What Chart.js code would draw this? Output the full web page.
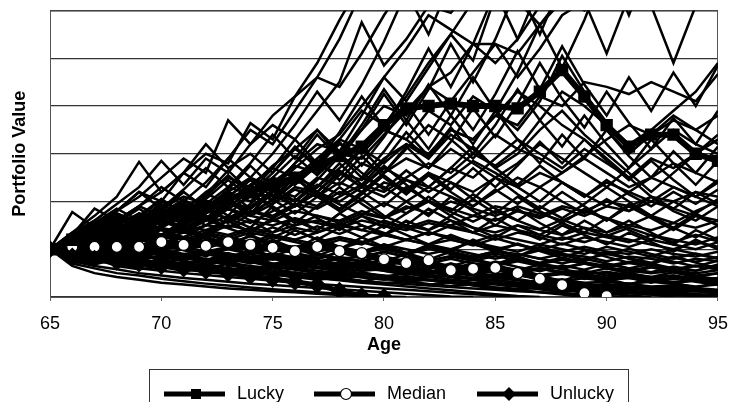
<!DOCTYPE html>
<html>
<head>
<meta charset="utf-8">
<script src="https://cdn.jsdelivr.net/npm/chart.js@4.4.1/dist/chart.umd.min.js"></script>
<style>
  html, body { margin: 0; padding: 0; background: #fff; }
  #wrap { width: 740px; height: 402px; position: relative; }
</style>
</head>
<body>
<div id="wrap"><canvas id="sim-chart"></canvas></div>
<script>
var ages = [65,66,67,68,69,70,71,72,73,74,75,76,77,78,79,80,81,82,83,84,85,86,87,88,89,90,91,92,93,94,95];
var ageTicks = [65,70,75,80,85,90,95];

var luckyValues = [1,1.2,1.35,1.45,1.55,1.7,1.75,1.9,2.05,2.2,2.35,2.5,2.75,2.95,3.15,3.6,3.95,4.0,4.05,4.0,4.0,3.95,4.3,4.75,4.2,3.6,3.15,3.4,3.4,3.0,2.85];
var medianValues = [1,1.05,1.05,1.05,1.05,1.15,1.09,1.07,1.15,1.09,1.03,0.96,1.05,0.96,0.92,0.79,0.71,0.77,0.56,0.59,0.61,0.5,0.38,0.25,0.08,0.02,null,null,null,null,null];
var unluckyValues = [1,0.85,0.8,0.74,0.7,0.65,0.6,0.55,0.5,0.44,0.38,0.32,0.25,0.13,0.02,0,null,null,null,null,null,null,null,null,null,null,null,null,null,null,null];

// other simulated paths (thin lines)
var simPaths = [
  [1,1.35,1.7,2.1,2.83,2.2,2.6,2.3,2.9,3.5,3.2,3.9,4.6,5.4,6.4,7.2,7.9,8.5,9,9.5,10,10,10,10,10,10,10,10,10,10,10],
  [1,1.3,1.6,1.95,2.3,2.85,2.35,2.9,2.6,3.2,3.8,4.2,4.9,5.8,6.6,7.1,7.6,8,8.4,8.8,9,9,9,9,9,9,9,9,9,9,9],
  [1,1.2,1.5,1.8,2.1,2.5,2.9,2.6,3.7,3.2,3.6,3.3,3.9,4.5,5.75,4.85,5.4,6.1,5.95,6.5,7,7.5,8,8,8,8,8,8,8,8,8],
  [1,1.15,1.4,1.6,1.9,2.2,2.6,3.0,2.8,3.64,3.3,4.2,4.6,4.4,5.1,5.9,6.6,7.2,7.7,8,8.2,8.5,8.5,8.5,8.5,8.5,8.5,8.5,8.5,8.5,8.5],
  [1,1.3,1.55,1.8,2.2,2.0,2.6,3.2,2.7,3.0,2.6,3.1,3.5,3.05,3.8,4.6,4.1,4.8,5.5,4.95,6.3,7.0,7.5,7.8,8,8.2,8.2,8.2,8.2,8.2,8.2],
  [1,1.78,1.45,1.75,1.55,2.0,1.8,2.2,2.5,2.3,2.75,3.1,2.8,3.3,3.9,3.6,4.2,4.9,5.5,6.2,6.3,6.2,5.7,6.2,6.7,7,7.2,7.2,7.2,7.2,7.2],
  [1,1.3,1.85,1.6,1.9,1.7,2.0,1.85,2.2,2.5,2.3,2.8,3.2,3.05,3.5,4.0,3.8,4.4,4.7,5.3,5.3,4.6,5.2,5.9,6.2,5.1,6.3,7,7.5,7.5,7.5],
  [1,1.1,1.3,1.25,1.5,1.7,1.6,1.9,2.2,2.0,2.4,2.75,2.6,3.0,2.9,3.4,3.9,4.4,4.1,4.7,5.3,5.1,5.7,6.3,6.6,6.9,6.5,6.1,4.9,6.1,6.8],
  [1,1.15,1.3,1.5,1.4,1.7,1.95,1.8,2.1,2.45,2.3,2.7,3.1,3.4,4.0,4.6,5.2,5.9,5.6,5.3,4.9,5.4,6.1,6.3,6.0,6.4,6.8,6.6,6.3,6.6,6.9],
  [1,1.1,1.2,1.35,1.3,1.5,1.7,1.6,1.85,2.1,1.95,2.3,2.2,2.6,2.45,2.9,3.2,3.0,3.5,3.3,3.8,3.6,4.2,4.0,4.5,4.4,4.25,4.5,4.3,4.1,4.67],
  [1,1.1,1.25,1.15,1.4,1.6,1.5,1.75,2.0,1.85,2.2,2.5,2.3,2.7,3.1,3.5,3.3,3.9,3.6,4.2,3.9,3.5,4.1,5.05,4.3,3.5,3.0,3.4,3.8,3.5,3.2],
  [1,1.2,1.4,1.3,1.55,1.45,1.7,1.6,1.9,2.2,2.05,2.4,2.8,3.2,3.0,3.5,3.3,2.9,3.4,3.1,2.7,3.0,3.5,3.9,3.4,3.0,2.6,2.2,2.6,3.0,3.4],
  [1,1.15,1.05,1.3,1.2,1.5,1.75,1.6,2.0,1.85,2.25,2.1,2.5,2.35,2.8,2.6,3.1,3.6,3.3,2.9,3.4,3.1,3.7,4.3,4.0,3.6,3.2,3.5,3.9,4.3,4.9],
  [1,0.95,1.15,1.3,1.25,1.45,1.35,1.6,1.85,1.7,1.95,2.25,2.1,2.4,2.2,2.6,2.9,2.7,3.1,2.8,2.5,2.8,3.2,2.9,2.6,2.3,2.7,3.1,3.5,3.2,3.0],
  [1,1.1,1.3,1.5,1.75,1.6,1.85,2.15,2.0,2.35,2.7,2.5,2.9,3.3,3.1,2.8,3.2,2.9,3.5,3.3,3.8,4.3,4.0,3.6,3.3,2.9,2.5,2.1,1.8,1.6,1.9],
  [1,1.05,1.2,1.1,1.3,1.25,1.5,1.4,1.6,1.8,1.7,1.95,1.85,2.1,2.35,2.2,2.5,2.8,2.6,3.0,2.75,3.1,2.9,2.6,2.95,3.3,3.6,3.4,3.7,3.5,3.8],
  [1,1.2,1.45,1.7,1.55,1.85,2.1,1.95,2.3,2.15,2.5,2.35,2.75,2.6,2.3,2.7,2.45,2.2,2.5,2.85,2.6,2.3,2.0,2.4,2.15,1.9,2.2,2.5,2.3,2.1,2.4],
  [1,1.1,1.0,1.2,1.35,1.25,1.45,1.7,1.55,1.8,1.65,1.9,2.2,2.0,2.3,2.1,2.45,2.3,2.7,2.5,2.9,3.3,3.0,2.7,3.1,2.8,2.5,2.9,2.7,3.0,3.3],
  [1,1.2,1.1,1.3,1.5,1.4,1.25,1.5,1.7,1.55,1.8,2.05,1.9,2.2,2.05,2.4,2.25,2.6,2.4,2.2,2.5,2.3,2.6,2.4,2.1,2.4,2.2,2.0,2.3,2.1,1.9],
  [1,1.15,1.35,1.25,1.45,1.7,1.55,1.8,1.65,1.9,2.2,2.0,2.35,2.15,2.5,2.3,2.0,2.3,2.1,1.9,2.2,2.5,2.3,2.6,2.9,2.6,2.3,2.5,2.8,2.6,2.4],
  [1,1.05,1.15,1.1,1.25,1.2,1.35,1.3,1.5,1.4,1.6,1.5,1.7,1.6,1.8,1.65,1.9,1.75,2.0,1.85,1.7,1.9,1.75,1.6,1.8,1.65,1.5,1.7,1.55,1.8,2.0],
  [1,0.95,1.05,1.15,1.05,1.2,1.1,1.3,1.2,1.35,1.25,1.45,1.35,1.55,1.4,1.3,1.5,1.4,1.6,1.45,1.35,1.5,1.4,1.3,1.45,1.35,1.5,1.4,1.55,1.45,1.6],
  [1,1.1,1.2,1.05,1.15,1.3,1.2,1.1,1.25,1.4,1.3,1.2,1.35,1.5,1.4,1.6,1.45,1.3,1.5,1.35,1.2,1.35,1.25,1.1,1.25,1.15,1.05,1.2,1.1,1.0,1.15],
  [1,0.9,1.0,0.95,1.1,1.0,1.15,1.05,1.2,1.1,1.25,1.15,1.05,1.2,1.1,1.3,1.2,1.35,1.25,1.15,1.3,1.2,1.1,1.25,1.15,1.3,1.2,1.1,1.0,1.15,1.05],
  [1,1.05,0.95,1.05,1.0,1.1,1.05,0.95,1.05,1.0,1.1,1.0,0.95,1.05,0.95,1.0,0.9,1.0,0.95,0.85,0.95,0.9,0.8,0.9,0.85,0.75,0.85,0.8,0.7,0.8,0.75],
  [1,1.1,1.0,1.1,1.2,1.1,1.25,1.15,1.05,1.2,1.1,1.0,1.15,1.05,0.95,1.1,1.0,0.9,1.0,0.9,0.8,0.9,0.8,0.7,0.8,0.7,0.6,0.7,0.6,0.55,0.65],
  [1,0.95,0.9,1.0,0.95,0.9,1.0,0.9,0.85,0.95,0.85,0.8,0.9,0.8,0.75,0.85,0.75,0.7,0.8,0.7,0.65,0.75,0.65,0.6,0.7,0.6,0.55,0.5,0.55,0.45,0.5],
  [1,1.05,1.1,1.2,1.15,1.3,1.25,1.4,1.3,1.45,1.35,1.5,1.6,1.5,1.7,1.55,1.45,1.6,1.5,1.7,1.6,1.8,1.7,1.9,1.8,2.0,1.9,2.1,2.0,2.2,2.1],
  [1,0.9,0.95,0.85,0.95,0.9,0.8,0.9,0.85,0.75,0.85,0.8,0.7,0.8,0.75,0.65,0.75,0.7,0.6,0.7,0.65,0.55,0.6,0.5,0.55,0.45,0.5,0.4,0.45,0.35,0.4],
  [1,1.1,1.2,1.3,1.25,1.4,1.35,1.5,1.45,1.6,1.5,1.65,1.55,1.45,1.6,1.5,1.4,1.55,1.45,1.35,1.5,1.4,1.3,1.2,1.35,1.25,1.15,1.3,1.2,1.1,1.25],
  [1,1.0,1.1,1.0,1.05,1.15,1.05,1.2,1.1,1.0,1.1,1.05,1.15,1.25,1.15,1.3,1.2,1.1,1.2,1.1,1.0,1.1,1.0,0.95,1.05,0.95,0.9,1.0,0.9,0.85,0.95],
  [1,1.15,1.3,1.2,1.4,1.3,1.2,1.35,1.25,1.15,1.3,1.2,1.1,1.25,1.15,1.05,1.2,1.1,1.0,1.15,1.05,0.95,1.1,1.0,0.9,1.05,0.95,0.85,1.0,0.9,0.8],
  [1,1.2,1.35,1.5,1.4,1.6,1.75,1.65,1.85,1.7,1.6,1.8,1.7,1.55,1.75,1.65,1.85,2.0,1.85,1.7,1.9,1.8,1.65,1.85,1.7,1.9,1.8,2.0,1.85,1.7,1.6],
  [1,0.65,0.5,0.42,0.36,0.3,0.26,0.22,0.18,0.15,0.12,0.1,0.07,0.04,0.02,0,null,null,null,null,null,null,null,null,null,null,null,null,null,null,null],
  [1,0.7,0.6,0.5,0.45,0.38,0.33,0.28,0.24,0.2,0.16,0.13,0.1,0.07,0.04,0.01,0,null,null,null,null,null,null,null,null,null,null,null,null,null,null],
  [1,0.75,0.65,0.58,0.5,0.45,0.4,0.36,0.32,0.28,0.25,0.22,0.19,0.16,0.13,0.1,0.07,0.04,0.01,0,null,null,null,null,null,null,null,null,null,null,null],
  [1,0.85,0.75,0.7,0.6,0.55,0.5,0.46,0.42,0.38,0.34,0.3,0.27,0.24,0.21,0.18,0.15,0.12,0.09,0.06,0.03,0,null,null,null,null,null,null,null,null,null],
  [1,0.9,0.85,0.78,0.72,0.68,0.62,0.58,0.55,0.5,0.46,0.43,0.4,0.36,0.33,0.3,0.27,0.24,0.21,0.18,0.15,0.12,0.1,0.08,0.05,0.02,0,null,null,null,null],
  [1,0.9,0.95,0.85,0.8,0.85,0.75,0.7,0.72,0.65,0.6,0.62,0.55,0.5,0.48,0.44,0.4,0.36,0.33,0.3,0.26,0.22,0.19,0.16,0.13,0.1,0.08,0.06,0.04,0.02,0.01],
  [1,0.95,1.0,0.92,0.88,0.9,0.82,0.78,0.8,0.72,0.68,0.7,0.64,0.6,0.55,0.58,0.5,0.46,0.42,0.38,0.34,0.3,0.26,0.22,0.19,0.16,0.13,0.1,0.08,0.06,0.05],
  [1,1.05,0.95,0.9,1.0,0.9,0.85,0.8,0.75,0.8,0.7,0.65,0.6,0.55,0.5,0.45,0.4,0.35,0.3,0.25,0.2,0.15,0.1,0.05,0,null,null,null,null,null,null],
  [1,1.1,1.0,1.05,0.95,1.0,0.9,0.95,0.85,0.8,0.85,0.75,0.7,0.65,0.6,0.55,0.5,0.52,0.45,0.4,0.42,0.36,0.3,0.32,0.26,0.2,0.22,0.17,0.12,0.14,0.1],
  [1,0.85,0.9,0.8,0.75,0.7,0.72,0.65,0.6,0.55,0.5,0.45,0.4,0.35,0.3,0.26,0.22,0.18,0.14,0.1,0.06,0.02,0,null,null,null,null,null,null,null,null],
  [1,1.15,1.05,1.2,1.1,1.0,1.05,0.95,0.9,0.85,0.9,0.8,0.75,0.7,0.65,0.6,0.62,0.55,0.5,0.45,0.4,0.35,0.3,0.25,0.2,0.15,0.1,0.05,0,null,null],
  [1,1.2,1.1,1.25,1.15,1.3,1.2,1.1,1.15,1.05,0.95,1.0,0.9,0.8,0.85,0.75,0.7,0.65,0.6,0.55,0.5,0.45,0.4,0.35,0.3,0.32,0.27,0.22,0.24,0.19,0.15],
  [1,1.3,1.15,1.5,1.25,1.6,1.4,1.25,1.65,1.45,1.9,1.6,1.4,1.75,2.05,1.7,1.5,1.85,1.6,1.35,1.65,1.4,1.2,1.5,1.3,1.1,1.35,1.15,0.95,1.2,1.0],
  [1,0.8,1.0,0.85,1.1,0.9,0.75,0.95,0.8,1.0,0.85,0.7,0.9,0.75,0.6,0.8,0.65,0.5,0.7,0.55,0.42,0.6,0.45,0.33,0.5,0.38,0.26,0.4,0.3,0.2,0.3],
  [1,1.25,1.45,1.2,1.6,1.9,1.6,2.0,1.7,2.2,1.85,1.55,1.9,2.3,1.95,1.65,2.0,1.7,2.1,1.8,1.5,1.85,1.55,1.3,1.6,1.35,1.6,1.35,1.1,1.4,1.2],
  [1,1.1,0.9,1.15,0.95,1.2,1.0,0.85,1.05,0.9,1.1,0.92,0.78,0.95,0.8,0.65,0.82,0.68,0.55,0.7,0.58,0.46,0.6,0.5,0.38,0.5,0.4,0.3,0.42,0.32,0.25],
  [1,1.2,1.4,1.65,1.4,1.75,2.05,1.75,2.1,2.45,2.1,2.5,2.15,1.85,2.2,1.9,2.3,2.0,1.7,2.05,1.75,2.1,1.8,1.55,1.85,1.6,1.9,1.65,1.4,1.7,1.5],
  [1,0.9,1.05,1.25,1.05,1.3,1.1,1.35,1.15,0.95,1.2,1.0,1.25,1.05,0.88,1.1,0.92,0.78,0.95,0.8,0.68,0.85,0.7,0.58,0.72,0.6,0.5,0.62,0.52,0.42,0.5],
  [1,1.35,1.6,1.35,1.75,1.5,1.9,1.6,2.05,1.75,2.2,2.6,2.2,2.65,2.3,2.75,2.35,2.0,2.4,2.05,2.5,2.15,1.85,2.2,1.9,1.6,1.95,1.7,1.45,1.75,1.5],
  [1,0.85,0.7,0.85,0.7,0.58,0.7,0.58,0.48,0.6,0.5,0.4,0.5,0.4,0.32,0.42,0.33,0.25,0.32,0.24,0.17,0.24,0.16,0.1,0.15,0.08,0.03,0,null,null,null],
  [1,1.15,0.95,1.2,1.45,1.2,1.5,1.25,1.05,1.3,1.1,1.4,1.2,1.0,1.25,1.05,0.9,1.1,0.95,1.2,1.0,0.85,1.05,0.9,0.75,0.95,0.8,0.68,0.85,0.72,0.6],
  [1,1.25,1.05,1.35,1.15,1.45,1.75,1.5,1.85,1.6,1.35,1.65,1.4,1.75,1.5,1.3,1.6,1.4,1.7,1.45,1.25,1.5,1.3,1.55,1.35,1.65,1.4,1.2,1.45,1.25,1.5],
  [1,0.95,0.8,0.95,0.82,1.0,0.85,0.72,0.88,0.75,0.62,0.76,0.64,0.54,0.66,0.55,0.46,0.56,0.47,0.38,0.47,0.38,0.3,0.37,0.29,0.22,0.28,0.2,0.14,0.19,0.12],
  [1,1.2,1.0,1.25,1.5,1.3,1.6,1.9,1.6,1.35,1.65,1.4,1.2,1.45,1.25,1.5,1.3,1.1,1.3,1.12,0.95,1.12,0.96,0.82,0.98,0.84,0.72,0.86,0.74,0.64,0.76],
  [1,1.1,1.3,1.55,1.85,1.55,1.9,1.6,1.95,2.35,2.0,2.4,2.85,2.45,2.95,2.5,2.15,2.55,2.2,1.9,2.25,1.95,2.3,2.0,1.75,2.05,1.8,2.1,1.85,2.2,1.95],
  [1,0.9,1.1,0.95,0.8,0.95,0.8,0.98,0.84,0.72,0.86,0.74,0.9,0.78,0.66,0.8,0.68,0.58,0.7,0.6,0.74,0.63,0.54,0.66,0.57,0.7,0.6,0.52,0.64,0.55,0.68],
  [1,1.3,1.55,1.85,1.6,1.95,1.7,2.05,2.45,2.1,2.5,2.95,2.55,3.0,2.6,2.25,2.65,2.3,2.7,3.15,2.7,2.35,2.75,2.4,2.1,2.45,2.15,1.9,2.2,1.95,2.25],
  [1,1.05,0.88,1.05,0.9,0.76,0.9,0.77,0.92,0.8,0.68,0.82,0.7,0.6,0.72,0.62,0.53,0.64,0.55,0.47,0.57,0.49,0.42,0.5,0.43,0.36,0.44,0.37,0.31,0.37,0.3],
  [1,1.2,1.45,1.25,1.5,1.3,1.1,1.35,1.6,1.35,1.65,1.95,1.65,1.4,1.7,1.45,1.75,2.1,1.8,2.15,1.85,1.6,1.9,1.65,1.95,2.3,2.0,1.7,2.0,1.75,2.05],
  [1,0.8,0.68,0.8,0.68,0.8,0.68,0.58,0.7,0.6,0.5,0.6,0.5,0.42,0.52,0.43,0.36,0.44,0.36,0.29,0.36,0.29,0.22,0.28,0.21,0.15,0.2,0.14,0.09,0.13,0.08],
  [1,1.15,1.35,1.15,1.4,1.65,1.4,1.7,1.45,1.75,2.05,1.75,2.1,1.8,2.15,2.55,2.2,2.6,2.25,2.7,2.3,2.75,3.25,2.8,3.3,2.85,2.45,2.85,2.45,2.1,2.45],
  [1,1.0,1.2,1.0,1.2,1.45,1.2,1.0,1.2,1.0,0.85,1.02,0.86,1.04,0.88,0.74,0.9,0.76,0.64,0.78,0.66,0.56,0.68,0.58,0.5,0.6,0.5,0.42,0.52,0.44,0.37],
  [1,1.25,1.55,1.3,1.65,2.05,1.7,2.15,2.65,2.2,2.7,3.3,2.8,3.45,4.2,3.55,4.3,5.2,4.4,5.3,6.4,5.4,6.5,7.8,6.6,7.9,9,8,9,8,9],
  [1,1.15,1.4,1.7,1.45,1.8,2.2,1.85,2.25,2.75,2.3,2.8,3.4,2.9,3.5,4.25,3.6,4.35,5.3,4.5,5.4,6.5,5.5,6.6,8,6.8,8,7,8,7,8],
  [1,1.2,1.0,1.25,1.5,1.25,1.55,1.9,1.6,1.95,2.35,2.0,2.45,2.95,2.5,3.05,3.7,3.1,3.8,4.6,3.9,4.7,5.7,4.8,5.8,7,5.9,7.1,8.5,7.2,8.6],
  [1,1.3,1.1,1.4,1.7,2.05,1.75,2.1,2.55,2.15,2.6,3.15,2.7,3.25,2.75,3.35,4.05,3.4,4.1,3.5,4.25,5.15,4.35,5.25,4.45,3.8,4.6,3.9,4.7,4.0,4.85],
  [1,1.1,1.3,1.55,1.3,1.6,1.95,1.65,2.0,1.7,2.05,2.5,2.1,2.55,3.1,2.6,3.15,2.7,3.25,3.95,3.35,4.05,4.9,4.15,3.55,4.3,3.65,3.1,3.75,3.2,3.9],
  [1,1.25,1.5,1.8,2.2,1.85,2.25,2.7,2.3,2.8,3.4,2.9,3.5,2.95,3.6,4.35,3.7,4.45,3.8,3.2,3.9,3.3,2.8,3.4,2.9,3.5,2.95,2.5,3.05,2.6,3.15],
  [1,1.2,1.45,1.2,1.5,1.8,1.5,1.8,2.2,1.85,2.25,1.9,2.3,2.8,2.35,2.85,3.45,2.95,3.55,3.0,3.6,4.35,3.7,3.15,3.8,3.2,2.7,3.3,2.8,2.35,2.85],
  [1,1.15,1.35,1.6,1.9,2.3,2.0,2.4,2.9,2.5,3.0,3.6,4.3,3.7,4.45,5.35,6.4,5.5,6.6,7.9,6.7,8,7,8,7,8,7,8,7,8,7],
  [1,0.75,0.88,0.72,0.64,0.74,0.62,0.7,0.58,0.52,0.6,0.5,0.45,0.52,0.43,0.38,0.44,0.36,0.31,0.36,0.29,0.25,0.3,0.24,0.2,0.23,0.18,0.14,0.17,0.12,0.1],
  [1,0.88,0.98,0.84,0.76,0.88,0.78,0.9,0.8,0.7,0.8,0.7,0.62,0.7,0.6,0.68,0.6,0.52,0.58,0.5,0.44,0.5,0.43,0.48,0.41,0.35,0.4,0.34,0.3,0.34,0.29],
  [1,0.7,0.8,0.65,0.58,0.64,0.54,0.6,0.5,0.44,0.5,0.42,0.36,0.41,0.34,0.29,0.33,0.27,0.23,0.26,0.2,0.16,0.19,0.14,0.1,0.12,0.08,0.05,0.06,0.03,0],
  [1,0.92,0.8,0.9,0.8,0.72,0.82,0.73,0.84,0.75,0.68,0.77,0.69,0.62,0.71,0.63,0.56,0.64,0.57,0.51,0.58,0.52,0.46,0.52,0.46,0.41,0.47,0.42,0.37,0.42,0.37],
  [1,1.1,0.95,1.05,0.9,0.98,0.86,0.95,0.82,0.9,0.78,0.86,0.74,0.65,0.74,0.64,0.56,0.64,0.56,0.49,0.56,0.49,0.43,0.49,0.43,0.37,0.42,0.36,0.31,0.35,0.3],
  [1,0.8,0.9,1.0,0.88,0.78,0.88,0.78,0.7,0.8,0.7,0.62,0.7,0.62,0.55,0.62,0.55,0.48,0.54,0.47,0.41,0.46,0.4,0.34,0.39,0.33,0.28,0.32,0.27,0.22,0.26],
  [1,0.95,1.08,0.96,1.1,0.98,0.88,1.0,0.9,0.8,0.92,0.82,0.74,0.84,0.75,0.67,0.76,0.68,0.6,0.68,0.6,0.53,0.6,0.53,0.47,0.53,0.46,0.4,0.45,0.39,0.34],
  [1,0.78,0.7,0.8,0.7,0.62,0.7,0.62,0.55,0.62,0.55,0.48,0.42,0.47,0.41,0.36,0.4,0.35,0.3,0.26,0.3,0.25,0.21,0.24,0.2,0.16,0.18,0.14,0.1,0.12,0.08],
  [1,1.05,1.2,1.08,0.96,1.1,0.98,0.88,1.0,0.9,1.02,0.92,0.82,0.93,0.84,0.95,0.85,0.76,0.86,0.77,0.69,0.78,0.7,0.62,0.7,0.62,0.56,0.63,0.56,0.5,0.56],
  [1,0.88,0.78,0.7,0.78,0.68,0.6,0.68,0.6,0.53,0.46,0.52,0.45,0.39,0.44,0.38,0.32,0.36,0.3,0.25,0.28,0.22,0.17,0.2,0.15,0.1,0.12,0.07,0.03,0.04,0],
  [1,1.15,1.3,1.15,1.3,1.15,1.02,1.15,1.02,1.16,1.03,0.92,1.04,0.93,0.83,0.94,0.84,0.75,0.85,0.76,0.86,0.77,0.69,0.78,0.7,0.63,0.71,0.64,0.57,0.65,0.58],
  [1,0.82,0.92,0.8,0.9,0.78,0.68,0.77,0.67,0.58,0.66,0.57,0.5,0.57,0.49,0.43,0.49,0.42,0.36,0.41,0.35,0.3,0.34,0.29,0.24,0.27,0.22,0.18,0.2,0.16,0.12],
  [1,1.25,1.1,1.25,1.4,1.25,1.42,1.26,1.12,1.27,1.13,1.0,1.14,1.01,1.15,1.02,0.9,1.02,0.9,0.8,0.91,0.81,0.72,0.82,0.73,0.65,0.74,0.66,0.58,0.66,0.58],
  [1,0.9,1.05,1.2,1.05,1.22,1.08,1.25,1.1,0.98,1.12,0.99,1.14,1.01,0.9,1.03,0.92,1.05,0.94,0.84,0.96,0.86,0.98,0.88,0.79,0.9,0.81,0.72,0.82,0.74,0.84],
  [1,1.2,1.38,1.22,1.4,1.6,1.42,1.62,1.44,1.28,1.46,1.3,1.48,1.32,1.5,1.34,1.19,1.36,1.21,1.08,1.23,1.1,0.98,1.12,1.0,0.89,1.01,0.9,0.8,0.91,0.81],
  [1,1.3,1.5,1.75,1.55,1.78,1.58,1.82,1.62,1.86,2.14,1.9,2.18,1.94,1.72,1.97,1.75,2.0,1.78,1.58,1.8,1.6,1.42,1.62,1.44,1.28,1.45,1.29,1.15,1.3,1.16]
];

var FONT = "'Liberation Sans', Arial, sans-serif";

function toPoints(vals) {
  return ages.map(function (a, i) { return { x: a, y: vals[i] }; });
}

var datasets = simPaths.map(function (p) {
  return {
    data: toPoints(p),
    borderColor: '#000',
    borderWidth: 2.5,
    pointRadius: 0,
    spanGaps: false,
    order: 5
  };
});

datasets.push({
  label: 'Median', data: toPoints(medianValues),
  borderColor: '#000', borderWidth: 5,
  pointStyle: 'circle', pointRadius: 5.5,
  pointBackgroundColor: '#fff', pointBorderColor: '#000', pointBorderWidth: 1.2,
  order: 2
});
datasets.push({
  label: 'Unlucky', data: toPoints(unluckyValues),
  borderColor: '#000', borderWidth: 5,
  pointStyle: 'rectRot', pointRadius: 5.5,
  pointBackgroundColor: '#000', pointBorderColor: '#000',
  order: 1
});
datasets.push({
  label: 'Lucky', data: toPoints(luckyValues),
  borderColor: '#000', borderWidth: 6,
  pointStyle: 'rect', pointRadius: 4.5,
  pointBackgroundColor: '#000', pointBorderColor: '#000',
  order: 0
});

// plot frame + legend box at the bottom
var framePlugin = {
  id: 'frame',
  beforeDatasetsDraw: function (chart) {
    var a = chart.chartArea, ctx = chart.ctx;
    ctx.save();
    ctx.strokeStyle = '#555';
    ctx.lineWidth = 1;
    ctx.strokeRect(a.left + 0.5, a.top + 0.5, a.right - a.left - 1, a.bottom - a.top);
    ctx.restore();
  },
  afterDraw: function (chart) {
    var ctx = chart.ctx;
    var y = 394;
    var items = [
      { label: 'Lucky', style: 'rect', x0: 164 },
      { label: 'Median', style: 'circle', x0: 314 },
      { label: 'Unlucky', style: 'rectRot', x0: 477 }
    ];
    ctx.save();
    ctx.strokeStyle = '#333';
    ctx.lineWidth = 1;
    ctx.strokeRect(149.5, 369.5, 479, 60);
    items.forEach(function (it) {
      ctx.strokeStyle = '#000';
      ctx.lineWidth = 5;
      ctx.beginPath();
      ctx.moveTo(it.x0, y);
      ctx.lineTo(it.x0 + 61, y);
      ctx.stroke();
      var cx = it.x0 + 32;
      ctx.lineWidth = 1.2;
      if (it.style === 'rect') {
        ctx.fillStyle = '#000';
        ctx.fillRect(cx - 5, y - 5, 10, 10);
      } else if (it.style === 'circle') {
        ctx.fillStyle = '#fff';
        ctx.beginPath();
        ctx.arc(cx, y, 5.5, 0, Math.PI * 2);
        ctx.fill();
        ctx.stroke();
      } else {
        ctx.fillStyle = '#000';
        ctx.beginPath();
        ctx.moveTo(cx, y - 7);
        ctx.lineTo(cx + 7, y);
        ctx.lineTo(cx, y + 7);
        ctx.lineTo(cx - 7, y);
        ctx.closePath();
        ctx.fill();
      }
      ctx.fillStyle = '#000';
      ctx.font = '18px ' + FONT;
      ctx.textBaseline = 'middle';
      ctx.textAlign = 'left';
      ctx.fillText(it.label, it.x0 + 73, y);
    });
    ctx.restore();
  }
};

var simCanvas = document.getElementById('sim-chart');
var simChart = new Chart(simCanvas, {
  type: 'line',
  data: { datasets: datasets },
  options: {
    responsive: true,
    maintainAspectRatio: false,
    animation: false,
    devicePixelRatio: 1,
    layout: { padding: { top: 10, right: 11, bottom: 43, left: 0 } },
    plugins: { legend: { display: false }, tooltip: { enabled: false } },
    elements: { line: { tension: 0 } },
    scales: {
      x: {
        type: 'linear', min: 65, max: 95,
        afterBuildTicks: function (s) { s.ticks = ageTicks.map(function (v) { return { value: v }; }); },
        grid: { display: true, drawOnChartArea: false, tickLength: 4, color: '#666' },
        border: { display: false },
        ticks: { color: '#000', font: { family: FONT, size: 18 }, padding: 12, maxRotation: 0 },
        title: { display: true, text: 'Age', color: '#000', font: { family: FONT, size: 18, weight: 'bold' }, padding: { top: 0, bottom: 3 } },
        afterFit: function (s) { s.height = 62; }
      },
      y: {
        min: 0, max: 6,
        ticks: { display: false, stepSize: 1 },
        grid: { color: '#333', lineWidth: 1.3, drawTicks: false },
        border: { display: false },
        title: { display: true, text: 'Portfolio Value', color: '#000', font: { family: FONT, size: 18, weight: 'bold' }, padding: { top: 9, bottom: 0 } },
        afterFit: function (s) { s.width = 50; }
      }
    }
  },
  plugins: [framePlugin]
});
</script>
</body>
</html>
